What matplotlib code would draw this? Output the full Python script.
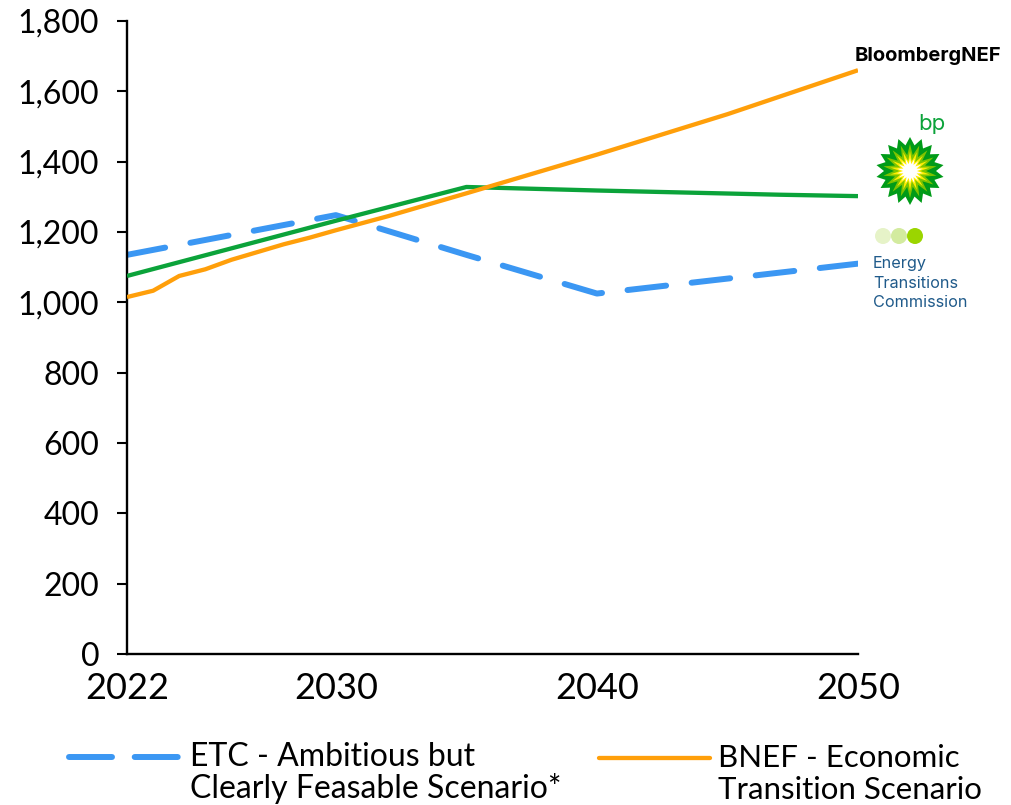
import numpy as np
import matplotlib.pyplot as plt
from matplotlib.legend_handler import HandlerLine2D
from matplotlib.lines import Line2D
from matplotlib.patches import Circle, Polygon

plt.rcParams['font.family'] = ['Lato', 'DejaVu Sans']

years_etc = [2022, 2030, 2035, 2040, 2050]
etc = [1135, 1248, 1135, 1025, 1110]
years_bp = [2022, 2030, 2035, 2040, 2047, 2050]
bp = [1075, 1232, 1328, 1318, 1306, 1302]
years_bnef = [2022, 2023, 2024, 2025, 2026, 2028, 2029, 2030, 2032, 2035, 2040, 2045, 2047, 2050]
bnef = [1015, 1033, 1075, 1094, 1121, 1165, 1184, 1205, 1245, 1310, 1420, 1535, 1585, 1660]

y_ticks = [0, 200, 400, 600, 800, 1000, 1200, 1400, 1600, 1800]
x_ticks = [2022, 2030, 2040, 2050]


# legend keys sit on the first text line, not in the middle
class TopLineHandler(HandlerLine2D):
    def create_artists(self, legend, orig_handle, xdescent, ydescent, width, height, fontsize, trans):
        artists = super().create_artists(legend, orig_handle, xdescent, ydescent, width, height, fontsize, trans)
        for a in artists:
            a.set_ydata(np.asarray(a.get_ydata()) + 12)
        return artists


fig = plt.figure(figsize=(10.12, 8.05), dpi=100)
ax = fig.add_axes([127/1012, 1-654/805, (858-127)/1012, (654-21)/805])
ax.patch.set_alpha(0)

ax.plot(years_etc, etc, color='#3b97f3', lw=4.3, dashes=(6.5, 4.3), dash_capstyle='round', zorder=2)
ax.plot(years_bp, bp, color='#0ba33a', lw=3.1, zorder=3, solid_capstyle='butt')
ax.plot(years_bnef, bnef, color='#ff9f0a', lw=3.1, zorder=4, solid_capstyle='butt')

ax.set_xlim(2022, 2050)
ax.set_ylim(0, 1800)
ax.set_yticks(y_ticks)
ax.set_yticklabels([f'{v:,}' for v in y_ticks])
ax.set_xticks(x_ticks)
ax.tick_params(axis='y', labelsize=23, length=7, width=1.5, pad=13)
ax.tick_params(axis='x', labelsize=26, length=0, pad=13)
for s in ['top', 'right']:
    ax.spines[s].set_visible(False)
for s in ['left', 'bottom']:
    ax.spines[s].set_linewidth(1.7)

h1 = Line2D([], [], color='#3b97f3', lw=4.3, dashes=(7.2, 3.8), dash_capstyle='round')
h2 = Line2D([], [], color='#ff9f0a', lw=3.1, solid_capstyle='round')
leg_etc = fig.legend(handles=[h1], labels=['ETC - Ambitious but\nClearly Feasable Scenario*'], frameon=False,
                     fontsize=23, loc='lower left', bbox_to_anchor=(69/1012, 1/805), borderpad=0, borderaxespad=0,
                     handlelength=3.4, handletextpad=0.4, handler_map={h1: TopLineHandler()})
leg_bnef = fig.legend(handles=[h2], labels=['BNEF - Economic\nTransition Scenario'], frameon=False,
                      fontsize=22.5, loc='lower left', bbox_to_anchor=(599/1012, 1/805), borderpad=0, borderaxespad=0,
                      handlelength=3.55, handletextpad=0.25, handler_map={h2: TopLineHandler()})
for leg, sp in [(leg_etc, 1.05), (leg_bnef, 1.16)]:
    for t in leg.get_texts():
        t.set_linespacing(sp)

# logos on top, pixel coordinates
logo = fig.add_axes([0, 0, 1, 1])
logo.set_xlim(0, 1012)
logo.set_ylim(805, 0)
logo.axis('off')
logo.patch.set_alpha(0)

logo.text(855, 56, 'BloombergNEF', fontsize=14.5, fontweight='bold', color='black', va='center',
          family=['Inter', 'DejaVu Sans'])
logo.text(918, 124, 'bp', fontsize=16, color='#0ba33a', va='center', family=['Inter', 'DejaVu Sans'])

def star(cx, cy, r_out, r_in, n, color, z):
    ang = np.arange(2*n) * np.pi / n - np.pi/2
    r = np.where(np.arange(2*n) % 2 == 0, r_out, r_in)
    logo.add_patch(Polygon(np.c_[cx + r*np.cos(ang), cy + r*np.sin(ang)], color=color, lw=0, zorder=z))

star(910, 171, 34, 26, 18, '#009b18', 1)
star(910, 171, 27, 16, 18, '#7dc400', 2)
star(910, 171, 20, 10, 18, '#ffee00', 3)
star(910, 171, 13, 7, 18, '#ffffff', 4)

for cx, c in [(883, '#e6f3c8'), (899, '#d3eb9f'), (915, '#9bd500')]:
    logo.add_patch(Circle((cx, 236), 8, color=c, lw=0))
for y, t in [(263, 'Energy'), (283, 'Transitions'), (302, 'Commission')]:
    logo.text(873, y, t, fontsize=11.7, color='#1f5a8a', va='center', family=['Inter', 'DejaVu Sans'])

fig.savefig('out.png', dpi=100)
